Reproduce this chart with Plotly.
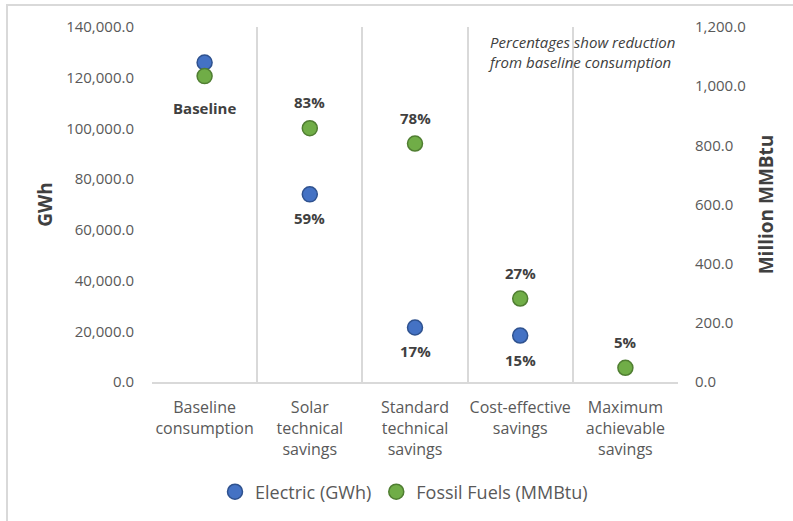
import plotly.graph_objects as go

categories = ["Baseline<br>consumption", "Solar<br>technical<br>savings",
              "Standard<br>technical<br>savings", "Cost-effective<br>savings",
              "Maximum<br>achievable<br>savings"]
electric_gwh = [126000, 74000, 21500, 18300, None]
fossil_mmbtu = [1034, 858, 806, 282, 48]
electric_labels = ["", "59%", "17%", "15%", ""]
fossil_labels = ["Baseline", "83%", "78%", "27%", "5%"]
left_ticks = [0, 20000, 40000, 60000, 80000, 100000, 120000, 140000]
right_ticks = [0, 200, 400, 600, 800, 1000, 1200]

FONT = "Open Sans"
TICK_COLOR = "#595959"
LABEL_COLOR = "#404040"

fig = go.Figure()
fig.add_trace(go.Scatter(
    x=categories, y=electric_gwh, mode="markers", name="Electric (GWh)",
    marker=dict(size=15, color="#4472C4", line=dict(color="#2F528F", width=1.5)),
    yaxis="y", hoverinfo="skip"))
fig.add_trace(go.Scatter(
    x=categories, y=fossil_mmbtu, mode="markers", name="Fossil Fuels (MMBtu)",
    marker=dict(size=15, color="#70AD47", line=dict(color="#507E32", width=1.5)),
    yaxis="y2", hoverinfo="skip"))

annotations = []
for c, v, t in zip(categories, electric_gwh, electric_labels):
    if t and v is not None:
        annotations.append(dict(x=c, y=v, xref="x", yref="y", text="<b>%s</b>" % t,
                                showarrow=False, yshift=-24,
                                font=dict(family=FONT, size=15, color=LABEL_COLOR)))
for c, v, t in zip(categories, fossil_mmbtu, fossil_labels):
    if t:
        shift = -32 if t == "Baseline" else 26
        annotations.append(dict(x=c, y=v, xref="x", yref="y2", text="<b>%s</b>" % t,
                                showarrow=False, yshift=shift,
                                font=dict(family=FONT, size=15, color=LABEL_COLOR)))
annotations.append(dict(
    x=(486 - 152) / 526, y=(383 - 30) / 356, xref="paper", yref="paper",
    xanchor="left", yanchor="top", align="left", showarrow=False,
    text="<i>Percentages show reduction<br>from baseline consumption</i>",
    font=dict(family=FONT, size=15, color=LABEL_COLOR)))

fig.update_layout(
    width=793, height=521,
    margin=dict(l=152, r=115, t=27, b=138),
    paper_bgcolor="white", plot_bgcolor="white",
    font=dict(family=FONT, size=15, color=TICK_COLOR),
    showlegend=True,
    legend=dict(orientation="h", x=(404 - 152) / 526, xanchor="center",
                y=-(492 - 383) / 356, yanchor="middle",
                font=dict(family=FONT, size=18, color=TICK_COLOR)),
    xaxis=dict(type="category", tickson="boundaries", showgrid=True,
               gridcolor="#d9d9d9", gridwidth=1.5, showline=True, linecolor="#d9d9d9",
               linewidth=1.5, ticks="", range=[-0.5, 4.5], ticklabelstandoff=10,
               tickangle=0, automargin=False,
               tickfont=dict(family=FONT, size=16, color=TICK_COLOR)),
    yaxis=dict(range=[0, 140000], tickvals=left_ticks, tickformat=",.1f",
               showgrid=False, zeroline=False, showline=False, ticks="",
               ticklabelstandoff=17, automargin=False,
               title=dict(text="<b>GWh</b>", standoff=8,
                          font=dict(family=FONT, size=19, color=LABEL_COLOR)),
               tickfont=dict(family=FONT, size=15, color=TICK_COLOR)),
    yaxis2=dict(range=[0, 1200], tickvals=right_ticks, tickformat=",.1f",
                overlaying="y", side="right", showgrid=False, zeroline=False,
                showline=False, ticks="", ticklabelstandoff=16, automargin=False,
                title=dict(text="<b>Million MMBtu</b>", standoff=14,
                           font=dict(family=FONT, size=19, color=LABEL_COLOR)),
                tickfont=dict(family=FONT, size=15, color=TICK_COLOR)),
    annotations=annotations,
    shapes=[dict(type="rect", xref="paper", yref="paper",
                 x0=(7 - 152) / 526, x1=(800 - 152) / 526,
                 y0=(383 - 530) / 356, y1=(383 - 5) / 356,
                 line=dict(color="#d9d9d9", width=2), fillcolor="rgba(0,0,0,0)",
                 layer="below")],
)

fig.write_html("out.html", config={"displayModeBar": False},
               post_script="document.body.style.margin='0px';")
